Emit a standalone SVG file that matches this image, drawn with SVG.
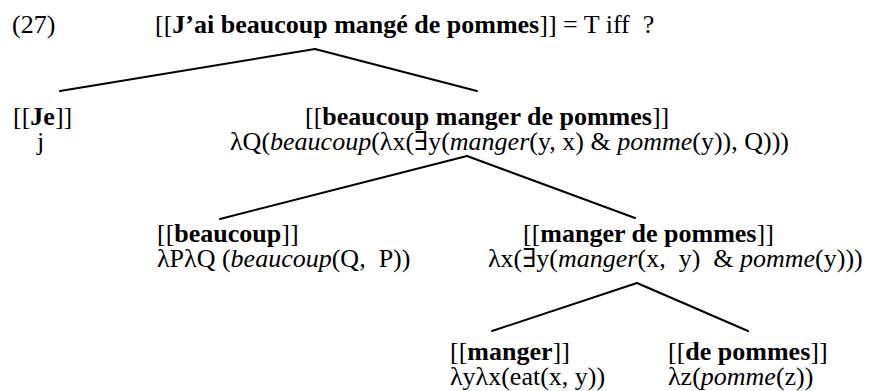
<svg xmlns="http://www.w3.org/2000/svg" width="878" height="391" viewBox="0 0 878 391" font-family="'Liberation Serif', 'DejaVu Serif', serif" font-size="26">
  <style>
    text { font-family: 'Liberation Serif', 'DejaVu Serif', serif; font-size: 26px; fill: #000; white-space: pre; }
    .b { font-weight: bold; }
    .i { font-style: italic; }
    .edge { stroke: #000; stroke-width: 2; fill: none; stroke-linecap: round; }
  </style>
  <rect width="878" height="391" fill="#fff"/>

  <g id="title">
    <text x="12" y="33">(27)</text>
    <text x="155" y="33">[[<tspan class="b">J’ai beaucoup mangé de pommes</tspan>]] = T iff  ?</text>
  </g>

  <g id="edges">
    <line class="edge" x1="315" y1="49" x2="60" y2="91"/>
    <line class="edge" x1="315" y1="49" x2="477" y2="91"/>
    <line class="edge" x1="467" y1="156" x2="220" y2="219"/>
    <line class="edge" x1="467" y1="156" x2="635" y2="218"/>
    <line class="edge" x1="637" y1="283" x2="492" y2="331"/>
    <line class="edge" x1="637" y1="283" x2="748" y2="331"/>
  </g>

  <g id="node-je">
    <text x="13" y="125">[[<tspan class="b">Je</tspan>]]</text>
    <text x="37" y="150">j</text>
  </g>

  <g id="node-vp">
    <text x="305" y="125">[[<tspan class="b">beaucoup manger de pommes</tspan>]]</text>
    <text x="230" y="150">λQ(<tspan class="i">beaucoup</tspan>(λx(∃y(<tspan class="i">manger</tspan>(y, x) &amp; <tspan class="i">pomme</tspan>(y)), Q)))</text>
  </g>

  <g id="node-beaucoup">
    <text x="157" y="242">[[<tspan class="b">beaucoup</tspan>]]</text>
    <text x="157" y="267">λPλQ (<tspan class="i">beaucoup</tspan>(Q,  P))</text>
  </g>

  <g id="node-manger-de-pommes">
    <text x="523" y="242">[[<tspan class="b">manger de pommes</tspan>]]</text>
    <text x="488" y="267">λx(∃y(<tspan class="i">manger</tspan>(x,  y)  &amp; <tspan class="i">pomme</tspan>(y)))</text>
  </g>

  <g id="node-manger">
    <text x="450" y="360">[[<tspan class="b">manger</tspan>]]</text>
    <text x="450" y="385">λyλx(eat(x, y))</text>
  </g>

  <g id="node-de-pommes">
    <text x="668" y="360">[[<tspan class="b">de pommes</tspan>]]</text>
    <text x="668" y="385">λz(<tspan class="i">pomme</tspan>(z))</text>
  </g>
</svg>
